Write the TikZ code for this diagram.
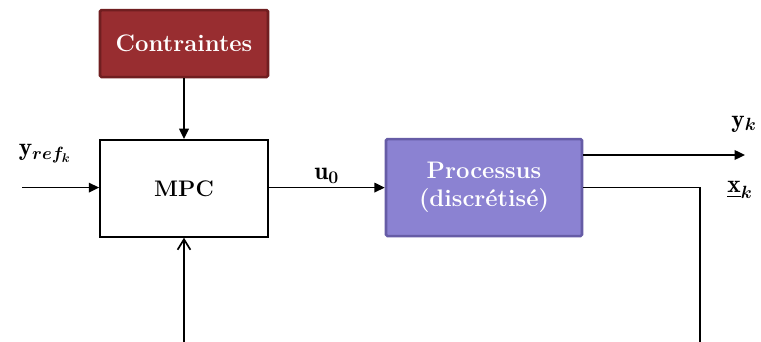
\documentclass[tikz,border=0pt]{standalone}
\usepackage{fix-cm}
\usepackage{amsmath,amssymb}
\usepackage{fontspec}
\usepackage{tikz}
\usetikzlibrary{arrows.meta,positioning,calc}
\definecolor{cstrred}{RGB}{152,45,48}
\definecolor{cstrdark}{RGB}{112,30,32}
\definecolor{proclav}{RGB}{139,130,210}
\definecolor{procdark}{RGB}{102,92,166}
\tikzset{
  base/.style={font=\bfseries\fontsize{17}{20}\selectfont, align=center, inner sep=3pt},
  box/.style={base, rectangle, draw=black, fill=white, line width=1.2pt, minimum height=2.425cm, minimum width=4.2cm},
  cstr/.style={base, rectangle, rounded corners=1pt, draw=cstrdark, fill=cstrred, text=white, line width=1.8pt, minimum height=1.675cm, minimum width=4.2cm},
  proc/.style={box, rounded corners=1pt, draw=procdark, fill=proclav, text=white, line width=1.8pt, minimum width=4.9cm},
  arr/.style={-{Triangle[length=2.6mm,width=2.4mm]}, line width=1.2pt, draw=black},
  arro/.style={-{Straight Barb[length=2.6mm,width=3.2mm]}, line width=1.2pt, draw=black},
  ln/.style={line width=1.2pt, draw=black},
  lbl/.style={font=\fontsize{18}{21}\selectfont, inner sep=1.5pt},
}

\begin{document}
\begin{tikzpicture}
  \useasboundingbox (0,0) rectangle (19.025,-8.55);
  \node[cstr] (cstr) at (4.6,-1.09) {Contraintes};
  \node[box,font=\bfseries\fontsize{16}{19}\selectfont] (mpc) at (4.6,-4.71) {MPC};
  \node[proc] (proc) at (12.1,-4.69) {Processus\\(discrétisé)};
  \coordinate (in) at (0.55,-4.69);
  \coordinate (yout) at (18.625,-3.875);
  \coordinate (xcorner) at (17.5,-4.69);
  \coordinate (xend) at (17.5,-8.6);
  \coordinate (fb) at (4.6,-8.6);
  \draw[arr] (cstr) -- (mpc);
  \draw[arr] (in) -- (mpc.west |- in);
  \node[lbl] at (1.125,-3.85) {$\mathbf{y}_{\boldsymbol{ref_{k}}}$};
  \draw[arr] (mpc.east |- proc.west) -- node[lbl,above=1pt]{$\mathbf{u}_{\boldsymbol{0}}$} (proc.west);
  \draw[arr] (proc.east |- yout) -- (yout);
  \node[lbl] at (18.6,-3.1) {$\mathbf{y}_{\boldsymbol{k}}$};
  \draw[ln] (proc.east) -- (xcorner) -- (xend);
  \node[lbl] at (18.5,-4.75) {$\underline{\mathbf{x}}_{\boldsymbol{k}}$};
  \draw[arro] (fb) -- (mpc.south);
\end{tikzpicture}
\end{document}
